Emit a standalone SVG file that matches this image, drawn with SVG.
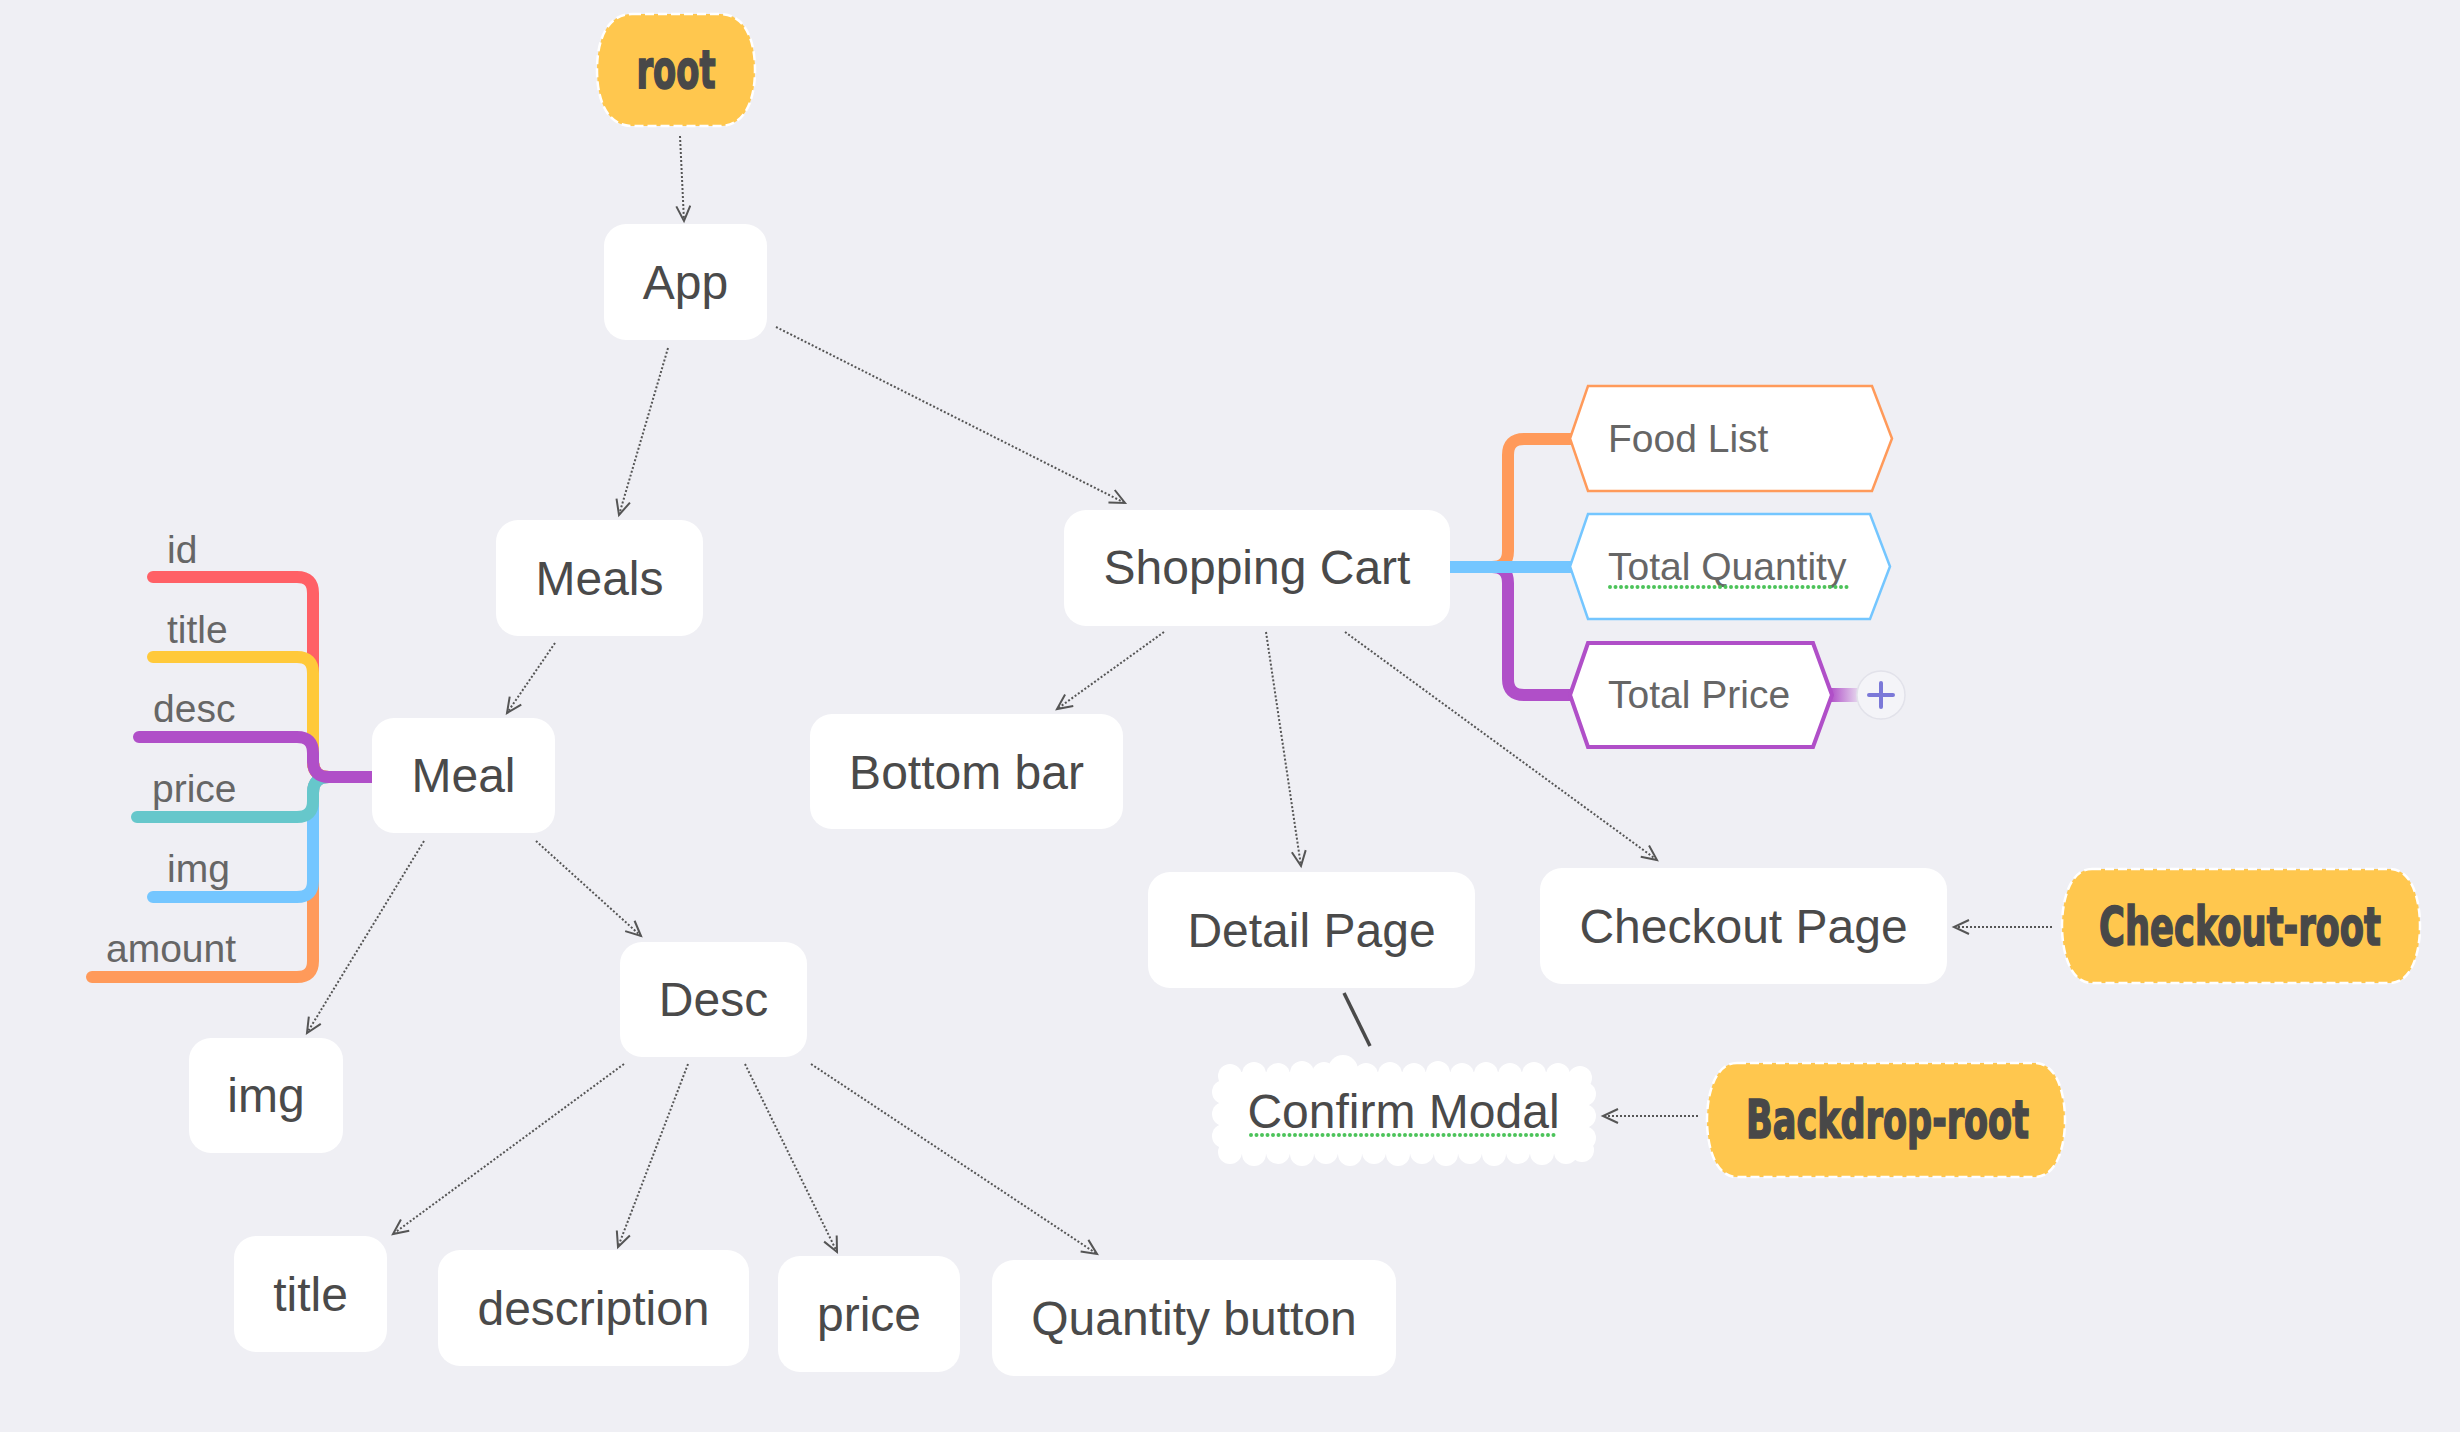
<svg xmlns="http://www.w3.org/2000/svg" width="2460" height="1432" viewBox="0 0 2460 1432">
<style>
.bg{fill:#EFEFF4}
.node rect{fill:#FFFFFF}
.lbl{font-family:"Liberation Sans",Arial,sans-serif;font-size:48px;fill:#4A4A4A;text-anchor:middle}
.attr{font-family:"Liberation Sans",Arial,sans-serif;font-size:39px;fill:#666666}
.hex{font-family:"Liberation Sans",Arial,sans-serif;font-size:39px;fill:#666666}
.ylw{fill:#FFC74E;stroke:#FFFFFF;stroke-width:2.5;stroke-dasharray:9 4}
.ytxt{font-family:"Liberation Sans Narrow","DejaVu Sans Condensed","Liberation Sans",sans-serif;font-weight:bold;font-size:54px;fill:#484848;stroke:#484848;stroke-width:1.6;text-anchor:middle}
.conn{fill:none;stroke:#555555;stroke-width:2;stroke-dasharray:2 2}
.arrowhead{fill:none;stroke:#555555;stroke-width:2}
.br{fill:none;stroke-width:12;stroke-linecap:round;stroke-linejoin:round}
.brr{fill:none;stroke-width:12;stroke-linecap:butt}
.ul{stroke:#4CC35A;stroke-width:4;stroke-linecap:round;stroke-dasharray:0 5.5;fill:none}
</style>
<defs>
<marker id="arr" markerWidth="20" markerHeight="18" refX="16" refY="8" orient="auto" markerUnits="userSpaceOnUse">
<path class="arrowhead" d="M1,1 L16,8 L1,15"/>
</marker>
<linearGradient id="stub" x1="0" y1="0" x2="1" y2="0">
<stop offset="0" stop-color="#B04FC8"/>
<stop offset="1" stop-color="#B04FC8" stop-opacity="0.1"/>
</linearGradient>
</defs>
<rect class="bg" x="0" y="0" width="2460" height="1432"/>

<g id="branches">
<path class="br" stroke="#FF6066" d="M372 777 H329 Q313 777 313 761 V593 Q313 577 297 577 H153"/>
<path class="br" stroke="#FF9A5A" d="M372 777 H329 Q313 777 313 793 V961 Q313 977 297 977 H92"/>
<path class="br" stroke="#FFC93A" d="M372 777 H329 Q313 777 313 761 V673 Q313 657 297 657 H153"/>
<path class="br" stroke="#74C6FF" d="M372 777 H329 Q313 777 313 793 V881 Q313 897 297 897 H153"/>
<path class="br" stroke="#66C7CB" d="M372 777 H329 Q313 777 313 793 V801 Q313 817 297 817 H137"/>
<path class="br" stroke="#B04FC8" d="M372 777 H329 Q313 777 313 761 V753 Q313 737 297 737 H139"/>
<path class="brr" stroke="#FF9A5A" d="M1450 567 H1492 Q1508 567 1508 551 V455 Q1508 439 1524 439 H1574"/>
<path class="brr" stroke="#B04FC8" d="M1450 567 H1492 Q1508 567 1508 583 V679 Q1508 695 1524 695 H1574"/>
<path class="brr" stroke="#74C6FF" d="M1450 567 H1574"/>
<rect x="1830" y="688" width="30" height="14" fill="url(#stub)"/>
</g>

<g id="connectors">
<line class="conn" x1="680" y1="136" x2="684" y2="221" marker-end="url(#arr)"/>
<line class="conn" x1="668" y1="348" x2="619" y2="515" marker-end="url(#arr)"/>
<line class="conn" x1="776" y1="327" x2="1125" y2="503" marker-end="url(#arr)"/>
<line class="conn" x1="555" y1="643" x2="507" y2="713" marker-end="url(#arr)"/>
<line class="conn" x1="424" y1="841" x2="307" y2="1033" marker-end="url(#arr)"/>
<line class="conn" x1="536" y1="841" x2="641" y2="936" marker-end="url(#arr)"/>
<line class="conn" x1="1164" y1="632" x2="1057" y2="709" marker-end="url(#arr)"/>
<line class="conn" x1="1266" y1="632" x2="1301" y2="866" marker-end="url(#arr)"/>
<line class="conn" x1="1345" y1="632" x2="1657" y2="860" marker-end="url(#arr)"/>
<line class="conn" x1="624" y1="1064" x2="393" y2="1234" marker-end="url(#arr)"/>
<line class="conn" x1="688" y1="1064" x2="618" y2="1247" marker-end="url(#arr)"/>
<line class="conn" x1="745" y1="1064" x2="837" y2="1252" marker-end="url(#arr)"/>
<line class="conn" x1="811" y1="1064" x2="1097" y2="1254" marker-end="url(#arr)"/>
<line class="conn" x1="2052" y1="927" x2="1954" y2="927" marker-end="url(#arr)"/>
<line class="conn" x1="1698" y1="1116" x2="1603" y2="1116" marker-end="url(#arr)"/>
<line x1="1344" y1="993" x2="1370" y2="1046" stroke="#4A4A4A" stroke-width="3.5"/>
</g>

<g id="attr-labels">
<text class="attr" x="167" y="563">id</text>
<text class="attr" x="167" y="643">title</text>
<text class="attr" x="153" y="722">desc</text>
<text class="attr" x="152" y="802">price</text>
<text class="attr" x="167" y="882">img</text>
<text class="attr" x="106" y="962">amount</text>
</g>

<g id="root">
<path class="ylw" d="M632 14 H720 C745 14 755 40 755 70 C755 100 745 126 720 126 H632 C607 126 597 100 597 70 C597 40 607 14 632 14 Z"/>
<text class="ytxt" x="676" y="88" textLength="79" lengthAdjust="spacingAndGlyphs">root</text>
</g>

<g id="app" class="node"><rect x="604" y="224" width="163" height="116" rx="22"/><text class="lbl" x="685.5" y="299">App</text></g>
<g id="meals" class="node"><rect x="496" y="520" width="207" height="116" rx="22"/><text class="lbl" x="599.5" y="595">Meals</text></g>
<g id="meal" class="node"><rect x="372" y="718" width="183" height="115" rx="22"/><text class="lbl" x="463.5" y="792">Meal</text></g>
<g id="shopping-cart" class="node"><rect x="1064" y="510" width="386" height="116" rx="22"/><text class="lbl" x="1257" y="584">Shopping Cart</text></g>
<g id="bottom-bar" class="node"><rect x="810" y="714" width="313" height="115" rx="22"/><text class="lbl" x="966.5" y="789">Bottom bar</text></g>
<g id="detail-page" class="node"><rect x="1148" y="872" width="327" height="116" rx="22"/><text class="lbl" x="1311.5" y="947">Detail Page</text></g>
<g id="checkout-page" class="node"><rect x="1540" y="868" width="407" height="116" rx="22"/><text class="lbl" x="1743.5" y="943">Checkout Page</text></g>
<g id="desc" class="node"><rect x="620" y="942" width="187" height="115" rx="22"/><text class="lbl" x="713.5" y="1016">Desc</text></g>
<g id="img" class="node"><rect x="189" y="1038" width="154" height="115" rx="22"/><text class="lbl" x="266" y="1112">img</text></g>
<g id="title" class="node"><rect x="234" y="1236" width="153" height="116" rx="22"/><text class="lbl" x="310.5" y="1311">title</text></g>
<g id="description" class="node"><rect x="438" y="1250" width="311" height="116" rx="22"/><text class="lbl" x="593.5" y="1325">description</text></g>
<g id="price" class="node"><rect x="778" y="1256" width="182" height="116" rx="22"/><text class="lbl" x="869" y="1331">price</text></g>
<g id="quantity-button" class="node"><rect x="992" y="1260" width="404" height="116" rx="22"/><text class="lbl" x="1194" y="1335">Quantity button</text></g>

<g id="food-list">
<polygon points="1570,438.5 1588,386 1872,386 1892,438.5 1872,491 1588,491" fill="#FFFFFF" stroke="#FF9A5A" stroke-width="2.5"/>
<text class="hex" x="1608" y="452">Food List</text>
</g>
<g id="total-quantity">
<polygon points="1570,566.5 1588,514 1870,514 1890,566.5 1870,619 1588,619" fill="#FFFFFF" stroke="#74C6FF" stroke-width="2.5"/>
<text class="hex" x="1608" y="580">Total Quantity</text>
<line class="ul" x1="1610" y1="587" x2="1851" y2="587"/>
</g>
<g id="total-price">
<polygon points="1570,695 1588,643 1813,643 1832,695 1813,747 1588,747" fill="#FFFFFF" stroke="#B04FC8" stroke-width="4"/>
<text class="hex" x="1608" y="708">Total Price</text>
</g>
<g id="add-button">
<circle cx="1881" cy="695" r="24" fill="#F4F4F8" stroke="#E2E2EA" stroke-width="1.5"/>
<path d="M1869 695 H1893 M1881 683 V707" stroke="#7B78D8" stroke-width="4" stroke-linecap="round"/>
</g>

<g id="checkout-root">
<path class="ylw" d="M2092 869 H2390 C2412 869 2420 900 2420 926 C2420 952 2412 983 2390 983 H2092 C2070 983 2062 952 2062 926 C2062 900 2070 869 2092 869 Z"/>
<text class="ytxt" x="2240" y="945" textLength="282" lengthAdjust="spacingAndGlyphs">Checkout-root</text>
</g>

<g id="backdrop-root">
<path class="ylw" d="M1737 1063 H2035 C2057 1063 2065 1094 2065 1120 C2065 1146 2057 1177 2035 1177 H1737 C1715 1177 1707 1146 1707 1120 C1707 1094 1715 1063 1737 1063 Z"/>
<text class="ytxt" x="1887.5" y="1138" textLength="283" lengthAdjust="spacingAndGlyphs">Backdrop-root</text>
</g>

<g id="confirm-modal" fill="#FFFFFF">
<rect x="1224" y="1072" width="360" height="82"/>
<circle cx="1230" cy="1076" r="12"/><circle cx="1254" cy="1074" r="12"/><circle cx="1278" cy="1075" r="12"/>
<circle cx="1302" cy="1073" r="12"/><circle cx="1324" cy="1074" r="12"/><circle cx="1343" cy="1070" r="15"/>
<circle cx="1366" cy="1075" r="12"/><circle cx="1390" cy="1074" r="12"/><circle cx="1414" cy="1075" r="12"/>
<circle cx="1438" cy="1073" r="12"/><circle cx="1462" cy="1075" r="12"/><circle cx="1486" cy="1074" r="12"/>
<circle cx="1510" cy="1075" r="12"/><circle cx="1534" cy="1074" r="12"/><circle cx="1558" cy="1075" r="12"/>
<circle cx="1580" cy="1078" r="12"/>
<circle cx="1230" cy="1152" r="12"/><circle cx="1254" cy="1154" r="12"/><circle cx="1278" cy="1152" r="12"/>
<circle cx="1302" cy="1154" r="12"/><circle cx="1326" cy="1152" r="12"/><circle cx="1350" cy="1154" r="12"/>
<circle cx="1374" cy="1152" r="12"/><circle cx="1398" cy="1154" r="12"/><circle cx="1422" cy="1152" r="12"/>
<circle cx="1446" cy="1154" r="12"/><circle cx="1470" cy="1152" r="12"/><circle cx="1494" cy="1154" r="12"/>
<circle cx="1518" cy="1152" r="12"/><circle cx="1542" cy="1153" r="12"/><circle cx="1566" cy="1152" r="12"/>
<circle cx="1582" cy="1150" r="12"/>
<circle cx="1224" cy="1092" r="12"/><circle cx="1224" cy="1114" r="12"/><circle cx="1224" cy="1136" r="12"/>
<circle cx="1584" cy="1094" r="12"/><circle cx="1584" cy="1116" r="12"/><circle cx="1584" cy="1138" r="12"/>
<text class="lbl" x="1403.5" y="1128">Confirm Modal</text>
<line class="ul" x1="1251" y1="1135" x2="1557" y2="1135"/>
</g>
</svg>
